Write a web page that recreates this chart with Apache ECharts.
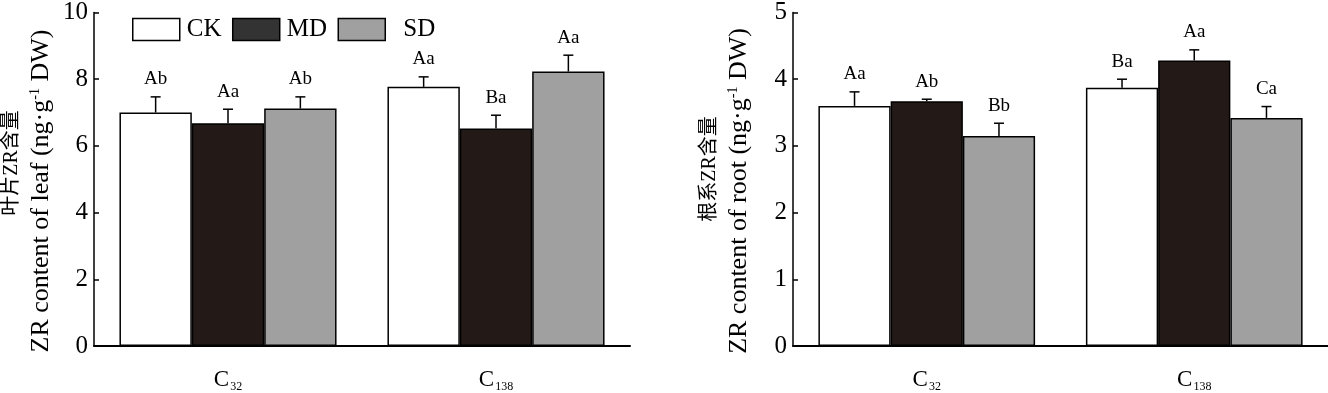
<!DOCTYPE html>
<html>
<head>
<meta charset="utf-8">
<script src="https://cdn.jsdelivr.net/npm/echarts@6/dist/echarts.min.js"></script>
<style>html,body{margin:0;padding:0;background:#fff}#c{width:1328px;height:393px}</style>
</head>
<body>
<div id="c"></div>
<script>
// ---- data ----
const categories = ['C32', 'C138'];
const seriesNames = ['CK', 'MD', 'SD'];
const leafCK = [7.00, 7.77];
const leafMD = [6.68, 6.52];
const leafSD = [7.12, 8.23];
const leafErrCK = [0.47, 0.30];
const leafErrMD = [0.42, 0.40];
const leafErrSD = [0.35, 0.49];
const leafLblCK = ['Ab', 'Aa'];
const leafLblMD = ['Aa', 'Ba'];
const leafLblSD = ['Ab', 'Aa'];
const rootCK = [3.60, 3.87];
const rootMD = [3.67, 4.28];
const rootSD = [3.15, 3.42];
const rootErrCK = [0.21, 0.13];
const rootErrMD = [0.03, 0.16];
const rootErrSD = [0.19, 0.17];
const rootLblCK = ['Aa', 'Ba'];
const rootLblMD = ['Ab', 'Aa'];
const rootLblSD = ['Bb', 'Ca'];
const leafTicks = [0, 10, 2];
const rootTicks = [0, 5, 1];

// ---- styles ----
const colors = ['#ffffff', '#231a17', '#a0a0a0'];
const legendColors = ['#ffffff', '#333333', '#a0a0a0'];
const SERIF = '"Liberation Serif", "Times New Roman", serif';
const BW = 0.27;

function barSeries(name, vals, idx, ax) {
  return {
    type: 'bar', name: name, data: vals, xAxisIndex: ax, yAxisIndex: ax,
    barWidth: (BW * 100) + '%', barGap: '0%',
    itemStyle: { color: colors[idx], borderColor: '#000', borderWidth: 1.5 },
    z: 2
  };
}
function errSeries(vals, errs, lbls, idx, ax) {
  return {
    type: 'custom', name: 'err' + ax + idx, xAxisIndex: ax, yAxisIndex: ax, z: 3,
    data: vals.map((v, i) => [i, v, errs[i]]),
    renderItem: function (params, api) {
      const ci = api.value(0), v = api.value(1), e = api.value(2);
      const base = api.coord([ci, v]);
      const top = api.coord([ci, v + e]);
      const cw = api.size([1, 0])[0];
      const bw = cw * BW;
      const x = base[0] + (idx - 1) * bw;
      const ls = { stroke: '#000', lineWidth: 1.5 };
      return {
        type: 'group', children: [
          { type: 'line', shape: { x1: x, y1: base[1], x2: x, y2: top[1] }, style: ls },
          { type: 'line', shape: { x1: x - 5, y1: top[1], x2: x + 5, y2: top[1] }, style: ls },
          { type: 'text', x: x, y: top[1] - 8,
            style: { text: lbls[params.dataIndex], fill: '#000', font: '19px ' + SERIF,
                     textAlign: 'center', textVerticalAlign: 'bottom' } }
        ]
      };
    }
  };
}
function xAx(gi) {
  return {
    type: 'category', gridIndex: gi, data: categories,
    axisLine: { lineStyle: { color: '#000', width: 2 } },
    axisTick: { show: false },
    axisLabel: {
      margin: 22, color: '#000',
      formatter: v => '{c|C}{s|' + v.slice(1) + '}',
      rich: {
        c: { fontFamily: SERIF, fontSize: 23, lineHeight: 23, verticalAlign: 'top', color: '#000' },
        s: { fontFamily: SERIF, fontSize: 12, lineHeight: 12, verticalAlign: 'top', padding: [13, 0, 0, 1], color: '#000' }
      }
    }
  };
}
function yAx(gi, t) {
  return {
    type: 'value', gridIndex: gi, min: t[0], max: t[1], interval: t[2],
    axisLine: { show: true, lineStyle: { color: '#000', width: 1.5 } },
    axisTick: { show: true, inside: true, length: 5, lineStyle: { color: '#000', width: 1.5 } },
    splitLine: { show: false },
    axisLabel: { color: '#000', fontFamily: SERIF, fontSize: 25, margin: 6 }
  };
}
function yTitle(x1, x2, yc1, yc2, cn, en) {
  return [
    { type: 'text', x: x1, y: yc1, rotation: Math.PI / 2,
      style: { text: cn, fill: '#000', font: '20px ' + SERIF + ', "Noto Sans CJK SC"',
               textAlign: 'center', textVerticalAlign: 'middle' } },
    { type: 'text', x: x2, y: yc2, rotation: Math.PI / 2,
      style: { text: en, fill: '#000', font: '26px ' + SERIF,
               textAlign: 'center', textVerticalAlign: 'middle',
               rich: { sup: { fontFamily: SERIF, fontSize: 14, verticalAlign: 'top', fill: '#000' } } } }
  ];
}

const chart = echarts.init(document.getElementById('c'), null, { renderer: 'canvas' });
chart.setOption({
  animation: false,
  backgroundColor: '#fff',
  grid: [
    { left: 94, top: 10, width: 536, height: 339 },
    { left: 793, top: 10, width: 535, height: 338 }
  ],
  legend: {
    data: seriesNames.map((n, i) => ({
      name: n, icon: 'rect',
      itemStyle: { color: legendColors[i], borderColor: '#000', borderWidth: 1.5 },
      textStyle: { padding: [0, 0, 0, i === 2 ? 13 : 2] }
    })),
    left: 127, top: 12, itemWidth: 47, itemHeight: 22, itemGap: 10.5,
    textStyle: { fontFamily: SERIF, fontSize: 25, color: '#000' }
  },
  xAxis: [xAx(0), xAx(1)],
  yAxis: [yAx(0, leafTicks), yAx(1, rootTicks)],
  graphic: yTitle(12, 41, 163, 191, '叶片ZR含量', 'ZR content of leaf (ng·g{sup|-1} DW)')
    .concat(yTitle(710, 739, 169, 191, '根系ZR含量', 'ZR content of root (ng·g{sup|-1} DW)')),
  series: [
    barSeries('CK', leafCK, 0, 0), barSeries('MD', leafMD, 1, 0), barSeries('SD', leafSD, 2, 0),
    barSeries('CK', rootCK, 0, 1), barSeries('MD', rootMD, 1, 1), barSeries('SD', rootSD, 2, 1),
    errSeries(leafCK, leafErrCK, leafLblCK, 0, 0), errSeries(leafMD, leafErrMD, leafLblMD, 1, 0), errSeries(leafSD, leafErrSD, leafLblSD, 2, 0),
    errSeries(rootCK, rootErrCK, rootLblCK, 0, 1), errSeries(rootMD, rootErrMD, rootLblMD, 1, 1), errSeries(rootSD, rootErrSD, rootLblSD, 2, 1)
  ]
});
</script>
</body>
</html>
